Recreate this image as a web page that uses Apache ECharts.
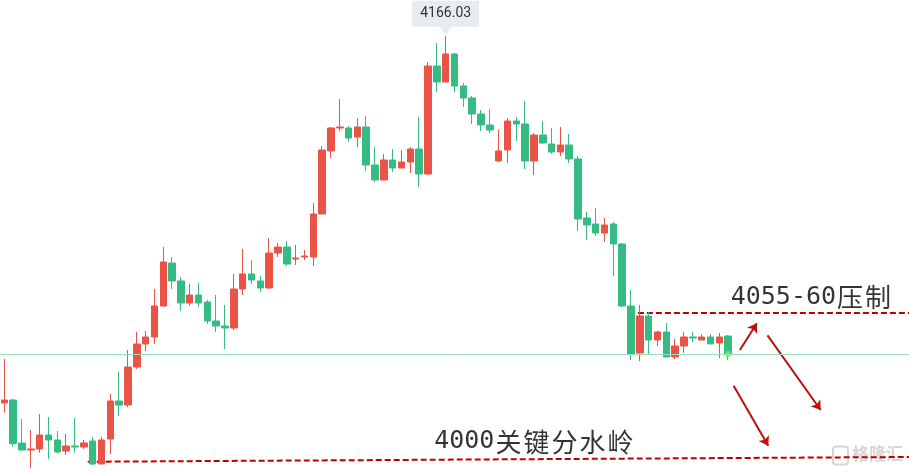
<!DOCTYPE html>
<html>
<head>
<meta charset="utf-8">
<script src="https://cdn.jsdelivr.net/npm/echarts@6.0.0/dist/echarts.min.js"></script>
<style>
  html, body { margin: 0; padding: 0; background: #fff; }
  #chart { width: 909px; height: 472px; }
</style>
</head>
<body>
<div id="chart"></div>
<script>
// === Données des bougies ===
const opens = [4022.90, 4024.07, 4007.31, 4004.58, 4004.97, 4010.42, 4008.47, 4004.19, 4006.14, 4005.75,
  4008.08, 3999.12, 4008.86, 4023.68, 4022.12, 4036.93, 4045.90, 4048.63, 4060.71, 4077.47,
  4070.46, 4061.88, 4065.00, 4062.27, 4054.86, 4052.91, 4052.14, 4067.34, 4073.19, 4070.46,
  4067.73, 4081.37, 4083.71, 4079.03, 4079.81, 4079.81, 4096.58, 4121.14, 4130.10, 4130.10,
  4126.59, 4130.49, 4115.68, 4109.83, 4117.63, 4114.51, 4116.85, 4121.92, 4112.17, 4154.27,
  4148.03, 4158.95, 4146.47, 4141.80, 4135.56, 4131.27, 4117.24, 4121.53, 4132.83, 4131.66,
  4117.24, 4127.37, 4123.86, 4120.75, 4123.47, 4118.02, 4095.02, 4092.68, 4089.17, 4092.68,
  4084.88, 4060.71, 4042.39, 4056.81, 4047.46, 4050.58, 4040.83, 4045.12, 4048.63, 4047.46,
  4048.63, 4046.29, 4049.02];
const closes = [4024.07, 4007.03, 4004.58, 4004.97, 4010.42, 4008.47, 4003.80, 4006.14, 4005.75, 4007.31,
  3999.12, 4008.47, 4023.68, 4022.12, 4036.93, 4045.90, 4048.63, 4060.71, 4077.86, 4070.46,
  4061.88, 4065.00, 4061.88, 4054.86, 4052.91, 4052.14, 4067.34, 4073.19, 4070.85, 4067.73,
  4081.37, 4083.71, 4077.08, 4079.42, 4080.20, 4096.58, 4121.53, 4130.10, 4130.49, 4126.20,
  4130.49, 4115.68, 4109.83, 4117.63, 4114.51, 4116.85, 4121.92, 4112.17, 4154.27, 4148.03,
  4158.95, 4146.47, 4141.80, 4135.56, 4131.27, 4129.32, 4121.14, 4132.83, 4131.66, 4117.24,
  4127.37, 4124.25, 4120.75, 4123.47, 4118.02, 4094.63, 4092.29, 4089.17, 4092.29, 4084.88,
  4060.71, 4042.00, 4056.81, 4047.46, 4050.58, 4040.83, 4045.12, 4048.63, 4048.24, 4048.63,
  4045.90, 4048.63, 4042.00];
const lows = [4019.12, 4005.86, 4004.58, 3997.56, 4003.52, 4001.07, 4003.13, 4002.63, 4003.52, 4004.97,
  3998.73, 3998.90, 4003.02, 4017.83, 4021.34, 4036.15, 4043.17, 4045.90, 4060.50, 4067.34,
  4058.76, 4060.71, 4060.32, 4053.69, 4050.58, 4043.95, 4051.36, 4065.00, 4069.29, 4066.17,
  4067.34, 4079.81, 4076.30, 4076.69, 4078.64, 4076.30, 4096.58, 4118.41, 4128.93, 4124.64,
  4122.69, 4113.34, 4109.05, 4109.83, 4112.95, 4114.51, 4112.56, 4107.10, 4112.17, 4144.14,
  4148.03, 4144.14, 4138.29, 4131.66, 4128.93, 4128.15, 4116.85, 4116.46, 4125.03, 4114.12,
  4111.78, 4123.86, 4119.97, 4119.19, 4116.46, 4089.95, 4086.44, 4088.00, 4085.66, 4072.41,
  4060.32, 4039.66, 4039.27, 4041.61, 4045.12, 4040.83, 4040.05, 4042.39, 4046.68, 4047.46,
  4045.90, 4040.44, 4039.66];
const highs = [4040.05, 4024.46, 4016.66, 4012.37, 4018.61, 4017.44, 4011.98, 4010.81, 4017.05, 4008.47,
  4009.64, 4009.64, 4026.41, 4034.98, 4043.56, 4050.58, 4050.97, 4067.34, 4083.71, 4079.81,
  4072.02, 4069.29, 4069.68, 4063.05, 4065.00, 4061.10, 4073.19, 4082.93, 4078.64, 4072.41,
  4087.22, 4085.27, 4086.05, 4084.49, 4082.54, 4100.86, 4123.09, 4130.49, 4141.41, 4130.88,
  4134.00, 4134.78, 4122.69, 4119.97, 4121.92, 4121.53, 4122.69, 4134.39, 4155.83, 4163.24,
  4166.03, 4159.34, 4147.64, 4142.58, 4137.12, 4137.51, 4129.32, 4134.00, 4134.39, 4140.63,
  4128.15, 4132.83, 4130.10, 4130.49, 4127.76, 4119.19, 4097.36, 4098.91, 4095.02, 4093.46,
  4085.27, 4066.95, 4061.10, 4058.37, 4050.97, 4054.08, 4047.85, 4050.58, 4050.58, 4049.80,
  4049.80, 4050.19, 4049.41];

// 83 bougies + place vide à droite pour les annotations
const nbSlots = 103;
const categories = [];
for (let i = 1; i <= nbSlots; i++) categories.push(String(i));

// === Annotations (coordonnées en index de bougie / prix) ===
const levelLines = [
  [[71.78, 4058.0], [102.5, 4058.0]],
  [[9.44, 4000.0], [102.5, 4001.85]]
];
const arrows = [
  [[83.34, 4043.56], [85.26, 4053.97]],
  [[86.47, 4049.29], [92.49, 4020.17]],
  [[82.63, 4029.64], [86.55, 4006.25]]
];
const notes = [
  ['4055-60压制', 91.44, 4064.0],
  ['4000关键分水岭', 60.04, 4007.8]
];

const chart = echarts.init(document.getElementById('chart'));
const lastIdx = closes.length - 1;
const lastClose = closes[lastIdx];

// chiffres en mono, caractères chinois un peu plus larges
function noteRich(txt) {
  return txt.replace(/([\u4e00-\u9fff])/g, '{h|$1}');
}

const option = {
  animation: false,
  backgroundColor: '#fff',
  grid: { left: 0, top: 0, width: 912, height: 472 },
  xAxis: [
    { type: 'category', data: categories, boundaryGap: true, show: false },
    { type: 'value', min: -0.5, max: nbSlots - 0.5, show: false }
  ],
  yAxis: { type: 'value', min: 3996, max: 4180, show: false },
  series: [
    {
      type: 'candlestick',
      barWidth: 7,
      data: opens.map((o, i) => [o, closes[i], lows[i], highs[i]]),
      itemStyle: {
        color: '#ec5347', borderColor: '#ec5347',
        color0: '#34bc84', borderColor0: '#34bc84',
        borderWidth: 1
      },
      markPoint: {
        symbol: 'path://M0,0H67V26H39L33.5,35L28,26H0Z',
        symbolSize: [67, 35],
        symbolOffset: [0, '-50%'],
        itemStyle: { color: '#e9ecef' },
        label: {
          show: true, position: 'inside', offset: [0, -5],
          color: '#333', fontSize: 14, fontFamily: 'Roboto, sans-serif',
          formatter: p => p.value
        },
        data: [{ type: 'max', valueDim: 'highest' }]
      },
      markLine: {
        silent: true,
        symbol: ['none', 'none'],
        label: { show: false },
        lineStyle: { color: '#9adfbf', width: 1, type: 'solid' },
        data: [{ yAxis: lastClose }]
      }
    },
    {
      type: 'lines',
      coordinateSystem: 'cartesian2d',
      xAxisIndex: 1,
      symbol: ['none', 'none'],
      lineStyle: { color: '#c00000', width: 2, type: [6, 3], opacity: 1 },
      data: levelLines.map(c => ({ coords: c }))
    },
    {
      type: 'lines',
      coordinateSystem: 'cartesian2d',
      xAxisIndex: 1,
      symbol: ['none', 'arrow'],
      symbolSize: 9,
      lineStyle: { color: '#bb1010', width: 2, opacity: 1 },
      data: arrows.map(c => ({ coords: c }))
    },
    {
      type: 'scatter',
      xAxisIndex: 1,
      symbolSize: 6,
      itemStyle: { color: '#72e872', shadowBlur: 14, shadowColor: 'rgba(90,225,90,0.95)' },
      data: [[lastIdx, lastClose]]
    },
    {
      type: 'scatter',
      xAxisIndex: 1,
      symbolSize: 1,
      itemStyle: { color: 'transparent' },
      label: {
        show: true, position: 'inside',
        formatter: p => noteRich(p.name),
        color: '#000', fontSize: 25,
        fontFamily: "'DejaVu Sans Mono', 'Noto Sans CJK SC', sans-serif",
        rich: {
          h: {
            color: '#000', fontSize: 26, padding: [0, 1, 0, 1],
            fontFamily: "'Noto Sans CJK SC', sans-serif"
          }
        }
      },
      data: notes.map(n => ({ name: n[0], value: [n[1], n[2]] }))
    }
  ],
  graphic: [
    {
      type: 'group', right: 6, bottom: 5,
      children: [
        { type: 'rect', shape: { x: 0, y: 1, width: 15, height: 18, r: 3 },
          style: { fill: 'none', stroke: '#d6d6d6', lineWidth: 2 } },
        { type: 'text', x: 19, y: 0,
          style: { text: '格隆汇', fill: '#d6d6d6', font: 'bold 17px "Noto Sans CJK SC"' } }
      ]
    }
  ]
};
chart.setOption(option);
</script>
</body>
</html>
